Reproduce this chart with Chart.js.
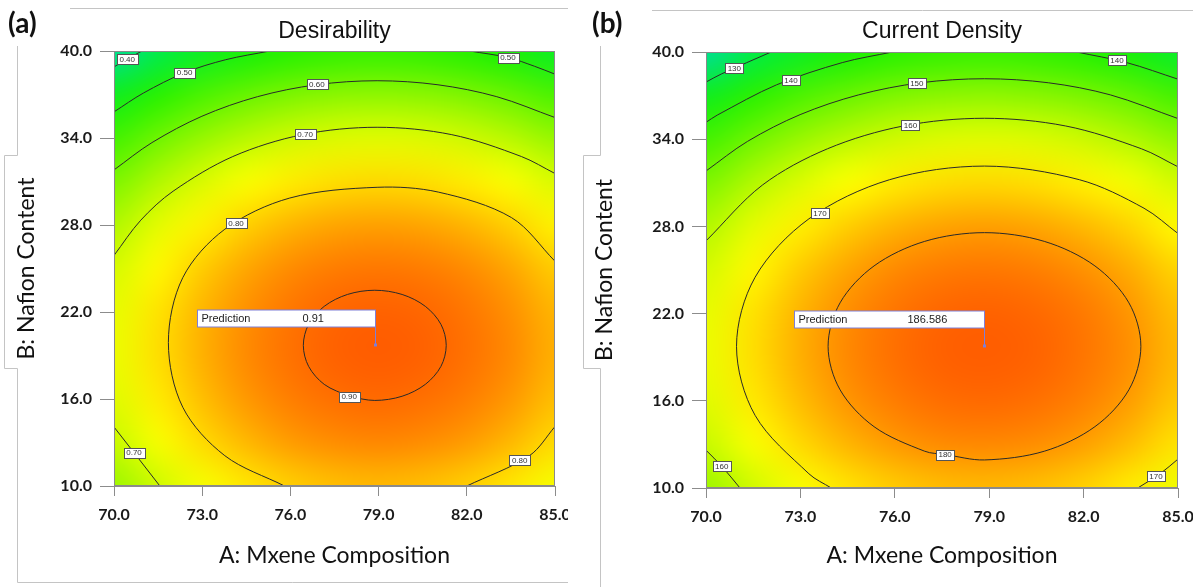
<!DOCTYPE html>
<html>
<head>
<meta charset="utf-8">
<script src="https://cdn.jsdelivr.net/npm/chart.js@4.4.1/dist/chart.umd.min.js"></script>
<style>
  html, body { margin: 0; padding: 0; background: #fff; }
  #wrap { position: relative; width: 1200px; height: 587px; overflow: hidden; }
  canvas { position: absolute; top: 0; }
  #chartA { left: 0; }
  #chartB { left: 580px; }
</style>
</head>
<body>
<div id="wrap">
  <canvas id="chartA" width="568" height="587"></canvas>
  <canvas id="chartB" width="613" height="587"></canvas>
</div>
<script>
// axis ticks
const xTicks = [70, 73, 76, 79, 82, 85];
const yTicks = [10, 16, 22, 28, 34, 40];

// surface grid (rows from top, y = 40 down to 10)
const gridX = [70, 71.5, 73, 74.5, 76, 77.5, 79, 80.5, 82, 83.5, 85];
const gridY = [40, 37, 34, 31, 28, 25, 22, 19, 16, 13, 10];

const desirGrid = [
  [0.348, 0.402, 0.447, 0.481, 0.506, 0.521, 0.526, 0.521, 0.506, 0.481, 0.447],
  [0.454, 0.508, 0.552, 0.587, 0.612, 0.627, 0.632, 0.627, 0.612, 0.587, 0.552],
  [0.542, 0.597, 0.641, 0.676, 0.701, 0.715, 0.720, 0.715, 0.701, 0.676, 0.641],
  [0.614, 0.669, 0.713, 0.748, 0.773, 0.787, 0.792, 0.787, 0.773, 0.748, 0.713],
  [0.669, 0.724, 0.768, 0.803, 0.828, 0.842, 0.847, 0.842, 0.828, 0.803, 0.768],
  [0.708, 0.762, 0.807, 0.841, 0.866, 0.881, 0.886, 0.881, 0.866, 0.841, 0.807],
  [0.729, 0.783, 0.828, 0.862, 0.887, 0.902, 0.907, 0.902, 0.887, 0.862, 0.828],
  [0.733, 0.788, 0.832, 0.867, 0.892, 0.907, 0.912, 0.907, 0.892, 0.867, 0.832],
  [0.721, 0.775, 0.820, 0.854, 0.879, 0.894, 0.899, 0.894, 0.879, 0.854, 0.820],
  [0.692, 0.746, 0.791, 0.825, 0.850, 0.865, 0.870, 0.865, 0.850, 0.825, 0.791],
  [0.646, 0.700, 0.745, 0.779, 0.804, 0.819, 0.824, 0.819, 0.804, 0.779, 0.745]
];

const currentGrid = [
  [121.4, 127.9, 133.1, 137.2, 140.0, 141.6, 142.1, 141.3, 139.4, 136.2, 131.8],
  [133.6, 140.1, 145.3, 149.3, 152.2, 153.8, 154.3, 153.5, 151.6, 148.4, 144.0],
  [143.8, 150.3, 155.5, 159.6, 162.4, 164.1, 164.5, 163.8, 161.8, 158.6, 154.3],
  [152.1, 158.6, 163.8, 167.9, 170.7, 172.4, 172.8, 172.0, 170.1, 166.9, 162.6],
  [158.5, 164.9, 170.2, 174.2, 177.1, 178.7, 179.2, 178.4, 176.4, 173.3, 168.9],
  [162.9, 169.3, 174.6, 178.6, 181.5, 183.1, 183.6, 182.8, 180.8, 177.7, 173.3],
  [165.4, 171.8, 177.1, 181.1, 183.9, 185.6, 186.0, 185.3, 183.3, 180.1, 175.8],
  [165.9, 172.3, 177.6, 181.6, 184.5, 186.1, 186.5, 185.8, 183.8, 180.7, 176.3],
  [164.4, 170.9, 176.1, 180.2, 183.0, 184.7, 185.1, 184.4, 182.4, 179.2, 174.9],
  [161.1, 167.5, 172.8, 176.8, 179.7, 181.3, 181.7, 181.0, 179.0, 175.9, 171.5],
  [155.8, 162.2, 167.5, 171.5, 174.4, 176.0, 176.4, 175.7, 173.7, 170.5, 166.2]
];

// contour lines, Desirability
const dLine040 = [[70, 38.9], [70.45, 39.45], [70.95, 40]];
const dLine050a = [[70, 35.8], [71.0, 37.1], [72.4, 38.5], [73.8, 39.4], [75.3, 40]];
const dLine050b = [[82.1, 40], [83.4, 39.55], [84.3, 38.95], [85, 38.4]];
const dLine060 = [[70, 31.8], [71.29, 33.68], [72.99, 35.5], [74.88, 36.85], [76.88, 37.67],
  [78.95, 37.95], [81.02, 37.67], [83.02, 36.85], [85, 35.41]];
const dLine070a = [[70, 25.9], [70.91, 28.33], [72.01, 30.33], [74.04, 32.72], [76.41, 34.23],
  [78.95, 34.74], [81.49, 34.23], [83.86, 32.72], [85, 31.55]];
const dLine070b = [[70, 14.07], [70.68, 12.3], [71.56, 10]];
const dLine080a = [[85, 25.5], [83.52, 28.51], [81.03, 30.27], [78.95, 30.6], [75.98, 29.86],
  [73.77, 27.71], [72.34, 24.37], [71.85, 19.9], [72.34, 15.43], [73.77, 12.09], [75.8, 10]];
const dLine080b = [[82.0, 10], [84.13, 12.09], [85, 14.1]];
// closed ring, starts and ends under its label
const dLine090 = [[78.0, 16.17], [78.87, 15.90], [79.80, 16.19], [80.59, 17.01], [81.12, 18.25],
  [81.30, 19.70], [81.12, 21.15], [80.59, 22.39], [79.80, 23.21], [78.87, 23.50], [77.94, 23.21],
  [77.15, 22.39], [76.62, 21.15], [76.44, 19.70], [76.62, 18.25], [77.15, 17.01], [78.0, 16.17]];

// contour lines, Current Density
const cLine130 = [[70, 37.93], [70.5, 38.5], [72.07, 40]];
const cLine140a = [[70, 35.16], [70.36, 35.66], [72.24, 37.74], [74.33, 39.27], [75.92, 40]];
const cLine140b = [[81.78, 40], [83.37, 39.27], [85, 38.13]];
const cLine150 = [[70, 31.81], [71.32, 33.85], [72.99, 35.69], [74.85, 37.05], [76.81, 37.88],
  [78.85, 38.16], [80.89, 37.88], [82.85, 37.05], [85, 35.42]];
const cLine160a = [[70, 27.0], [71.79, 30.84], [73.86, 33.34], [76.27, 34.91], [78.85, 35.44],
  [81.43, 34.91], [83.84, 33.34], [85, 32.1]];
const cLine160b = [[70, 12.6], [70.5, 11.5], [71.08, 10]];
const cLine170a = [[85, 27.51], [83.92, 29.25], [81.87, 31.21], [78.85, 32.15], [75.83, 31.21],
  [73.27, 28.52], [71.56, 24.5], [70.97, 19.75], [71.56, 15.0], [73.27, 10.98], [73.98, 10]];
const cLine170b = [[83.72, 10], [84.43, 10.98], [85, 11.99]];
// closed ring, starts and ends under its label
const cLine180 = [[77.6, 12.3], [78.85, 11.93], [80.75, 12.53], [82.36, 14.22], [83.44, 16.76],
  [83.82, 19.75], [83.44, 22.74], [82.36, 25.28], [80.75, 26.97], [78.85, 27.57], [76.95, 26.97],
  [75.34, 25.28], [74.26, 22.74], [73.88, 19.75], [74.26, 16.76], [75.34, 14.22], [76.95, 12.53],
  [77.6, 12.3]];

// contour labels [text, x, y]
const desirLabels = [
  ['0.40', 70.45, 39.45], ['0.50', 72.4, 38.5], ['0.50', 83.4, 39.55], ['0.60', 76.9, 37.7],
  ['0.70', 76.5, 34.25], ['0.80', 74.15, 28.15], ['0.90', 78.0, 16.17], ['0.70', 70.68, 12.3],
  ['0.80', 83.8, 11.8]
];
const currentLabels = [
  ['130', 70.9, 38.9], ['140', 72.7, 38.08], ['140', 83.06, 39.43], ['150', 76.7, 37.85],
  ['160', 76.5, 34.95], ['170', 73.62, 28.9], ['180', 77.6, 12.3], ['160', 70.5, 11.5],
  ['170', 84.3, 10.8]
];

// prediction flags [x, y, text]
const desirPred = [78.87, 19.7, '0.91'];
const currentPred = [78.83, 19.74, '186.586'];

const rampStops = [
  [0.00, [0, 222, 150]],
  [0.10, [0, 236, 70]],
  [0.25, [25, 240, 0]],
  [0.45, [115, 245, 0]],
  [0.62, [205, 250, 0]],
  [0.72, [255, 255, 0]],
  [0.82, [255, 200, 0]],
  [0.90, [255, 150, 0]],
  [1.00, [255, 92, 0]]
];

function rampColor(t) {
  t = Math.max(0, Math.min(1, t));
  for (let i = 1; i < rampStops.length; i++) {
    const [t0, c0] = rampStops[i - 1];
    const [t1, c1] = rampStops[i];
    if (t <= t1) {
      const f = (t - t0) / (t1 - t0);
      return c0.map((v, k) => Math.round(v + (c1[k] - v) * f));
    }
  }
  return rampStops[rampStops.length - 1][1];
}

function makeShade(grid, vmin, vmax) {
  const off = document.createElement('canvas');
  off.width = gridX.length;
  off.height = gridY.length;
  const octx = off.getContext('2d');
  const img = octx.createImageData(off.width, off.height);
  grid.forEach((row, r) => row.forEach((v, c) => {
    const col = rampColor((v - vmin) / (vmax - vmin));
    const i = (r * off.width + c) * 4;
    img.data[i] = col[0]; img.data[i + 1] = col[1]; img.data[i + 2] = col[2]; img.data[i + 3] = 255;
  }));
  octx.putImageData(img, 0, 0);
  return off;
}

function panelPlugin(p) {
  const shade = makeShade(p.grid, p.vmin, p.vmax);
  return {
    id: 'panel_' + p.id,
    beforeDatasetsDraw(chart) {
      const {ctx, chartArea: a, scales: {x, y}} = chart;
      const x0 = x.getPixelForValue(gridX[0]), x1 = x.getPixelForValue(gridX[gridX.length - 1]);
      const y0 = y.getPixelForValue(gridY[0]), y1 = y.getPixelForValue(gridY[gridY.length - 1]);
      const cw = (x1 - x0) / (gridX.length - 1), ch = (y1 - y0) / (gridY.length - 1);
      ctx.save();
      ctx.beginPath();
      ctx.rect(a.left, a.top, a.right - a.left, a.bottom - a.top);
      ctx.clip();
      ctx.imageSmoothingEnabled = true;
      ctx.imageSmoothingQuality = 'high';
      ctx.drawImage(shade, x0 - cw / 2, y0 - ch / 2, cw * gridX.length, ch * gridY.length);
      ctx.restore();
    },
    afterDatasetsDraw(chart) {
      const {ctx, chartArea: a, scales: {x, y}} = chart;
      ctx.save();
      ctx.strokeStyle = '#8a8a8a';
      ctx.lineWidth = 1;
      ctx.strokeRect(a.left + 0.5, a.top + 0.5, a.right - a.left - 1, a.bottom - a.top - 1);

      // contour labels
      ctx.font = '8px "Liberation Sans", Arial, sans-serif';
      ctx.textAlign = 'center';
      ctx.textBaseline = 'middle';
      p.labels.forEach(([t, lx, ly]) => {
        const px = x.getPixelForValue(lx), py = y.getPixelForValue(ly);
        const w = ctx.measureText(t).width + 5, h = 10;
        ctx.fillStyle = '#ffffff';
        ctx.fillRect(Math.round(px - w / 2) + 0.5, Math.round(py - h / 2) + 0.5, Math.round(w), h);
        ctx.strokeStyle = '#555';
        ctx.strokeRect(Math.round(px - w / 2) + 0.5, Math.round(py - h / 2) + 0.5, Math.round(w), h);
        ctx.fillStyle = '#333';
        ctx.fillText(t, px, py + 0.5);
      });

      // prediction flag
      const [vx, vy, vt] = p.pred;
      const px = Math.round(x.getPixelForValue(vx)) + 0.5, py = Math.round(y.getPixelForValue(vy));
      const bh = 17, bb = py - 18, bl = px - p.predWidth;
      ctx.strokeStyle = '#7f7fd6';
      ctx.beginPath();
      ctx.moveTo(px, bb);
      ctx.lineTo(px, py);
      ctx.stroke();
      ctx.fillStyle = '#7f7fd6';
      ctx.fillRect(px - 1.5, py - 1.5, 3, 3);
      ctx.fillStyle = '#ffffff';
      ctx.fillRect(bl, bb - bh, p.predWidth, bh);
      ctx.strokeRect(bl, bb - bh, p.predWidth, bh);
      ctx.fillStyle = '#222';
      ctx.font = '11px "Liberation Sans", Arial, sans-serif';
      ctx.textAlign = 'left';
      ctx.fillText('Prediction', bl + 4, bb - bh / 2 + 0.5);
      ctx.fillText(vt, bl + p.valueOffset, bb - bh / 2 + 0.5);
      ctx.restore();
    },
    afterDraw(chart) {
      const {ctx, chartArea: a} = chart;
      const f = p.frame;
      ctx.save();
      ctx.strokeStyle = '#c4c4c4';
      ctx.lineWidth = 1;
      ctx.beginPath();
      ctx.moveTo(f.topX, f.topY); ctx.lineTo(chart.width, f.topY);
      ctx.moveTo(f.x, f.y0); ctx.lineTo(f.x, f.n0); ctx.lineTo(f.nx, f.n0);
      ctx.lineTo(f.nx, f.n1); ctx.lineTo(f.x, f.n1); ctx.lineTo(f.x, f.y1);
      if (f.bottom) ctx.lineTo(chart.width, f.y1);
      ctx.stroke();

      ctx.fillStyle = '#111';
      ctx.textBaseline = 'middle';
      ctx.textAlign = 'center';
      ctx.font = '23px "Liberation Sans", Arial, sans-serif';
      ctx.fillText(p.title, (a.left + a.right) / 2, 32);
      ctx.textAlign = 'left';
      ctx.font = 'bold 28px Lato, sans-serif';
      ctx.fillText(p.letter, p.letterX, 24);
      ctx.restore();
    }
  };
}

function makePanel(p) {
  const canvas = document.getElementById(p.id);
  const tickFont = {family: 'Lato', weight: 'bold', size: 16};
  const titleFont = {family: 'Lato', size: 23};
  return new Chart(canvas, {
    type: 'scatter',
    data: {
      datasets: p.lines.map(pts => ({
        data: pts.map(q => ({x: q[0], y: q[1]})),
        showLine: true,
        borderColor: '#2a2a2a',
        borderWidth: 1,
        pointRadius: 0,
        tension: 0.33,
        fill: false
      }))
    },
    options: {
      responsive: false,
      animation: false,
      devicePixelRatio: 1,
      events: [],
      layout: {padding: {top: p.plotTop, right: canvas.width - p.plotRight, left: 0, bottom: 0}},
      plugins: {legend: {display: false}, tooltip: {enabled: false}},
      scales: {
        x: {
          type: 'linear', min: 70, max: 85,
          afterBuildTicks: s => { s.ticks = xTicks.map(v => ({value: v})); },
          afterFit: s => { s.height = p.xAxisH; s.paddingLeft = 0; s.paddingRight = 0; },
          ticks: {callback: v => Number(v).toFixed(1), font: tickFont, color: '#1a1a1a',
            padding: 9, maxRotation: 0, autoSkip: false},
          grid: {drawOnChartArea: false, drawTicks: true, tickLength: 10, color: '#8c8c8c'},
          border: {display: true, color: '#8c8c8c'},
          title: {display: true, text: 'A: Mxene Composition', font: titleFont, color: '#111',
            padding: {top: 0, bottom: 18}}
        },
        y: {
          type: 'linear', min: 10, max: 40,
          afterBuildTicks: s => { s.ticks = yTicks.map(v => ({value: v})); },
          afterFit: s => { s.width = p.yAxisW; s.paddingTop = 0; s.paddingBottom = 0; },
          ticks: {callback: v => Number(v).toFixed(1), font: tickFont, color: '#1a1a1a', padding: 8},
          grid: {drawOnChartArea: false, drawTicks: true, tickLength: 14, color: '#8c8c8c'},
          border: {display: true, color: '#8c8c8c'},
          title: {display: true, text: 'B: Nafion Content', font: titleFont, color: '#111',
            padding: {top: p.yTitlePad, bottom: 0}}
        }
      }
    },
    plugins: [panelPlugin(p)]
  });
}

makePanel({
  id: 'chartA', title: 'Desirability', letter: '(a)', letterX: 8,
  grid: desirGrid, vmin: 0.35, vmax: 0.912,
  lines: [dLine040, dLine050a, dLine050b, dLine060, dLine070a, dLine070b, dLine080a, dLine080b, dLine090],
  labels: desirLabels, pred: desirPred, predWidth: 178, valueOffset: 105,
  plotTop: 51, plotRight: 555, yAxisW: 114, xAxisH: 101, yTitlePad: 13,
  frame: {topX: 70, topY: 8.5, x: 17.5, y0: 46, n0: 155.5, nx: 4.5, n1: 368.5, y1: 582.5, bottom: true}
});

makePanel({
  id: 'chartB', title: 'Current Density', letter: '(b)', letterX: 12,
  grid: currentGrid, vmin: 121.4, vmax: 186.6,
  lines: [cLine130, cLine140a, cLine140b, cLine150, cLine160a, cLine160b, cLine170a, cLine170b, cLine180],
  labels: currentLabels, pred: currentPred, predWidth: 190, valueOffset: 113,
  plotTop: 52, plotRight: 598, yAxisW: 126, xAxisH: 99, yTitlePad: 11,
  frame: {topX: 72, topY: 10.5, x: 20.5, y0: 46, n0: 155.5, nx: 3.5, n1: 368.5, y1: 600, bottom: false}
});
</script>
</body>
</html>
